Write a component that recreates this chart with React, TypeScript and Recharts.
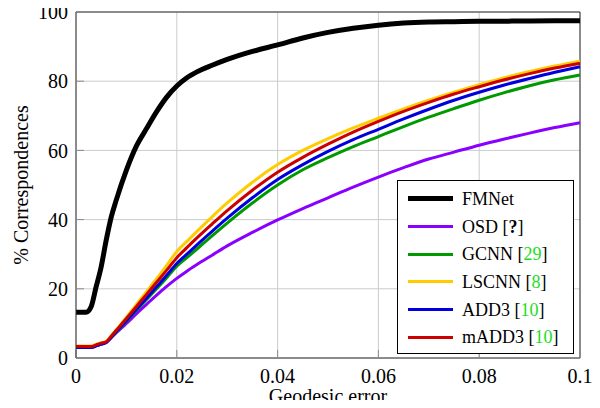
import React from 'react';
import {
  LineChart,
  Line,
  XAxis,
  YAxis,
  CartesianGrid,
  ReferenceLine,
  Legend,
  Label,
} from 'recharts';

const errX = [0, 0.002, 0.003, 0.004, 0.005, 0.006, 0.007, 0.008, 0.01, 0.012, 0.014, 0.016, 0.018, 0.02, 0.022, 0.024, 0.027, 0.03, 0.035, 0.04, 0.045, 0.05, 0.055, 0.06, 0.065, 0.07, 0.075, 0.08, 0.085, 0.09, 0.095, 0.1];

const fmnet = [13.2, 13.2, 14.8, 20.6, 26.4, 34.1, 40.8, 45.7, 54.3, 61.3, 66.3, 71.2, 75.4, 78.6, 81.0, 82.7, 84.6, 86.3, 88.6, 90.5, 92.5, 94.1, 95.3, 96.2, 96.8, 97.1, 97.2, 97.3, 97.35, 97.4, 97.45, 97.5];
const osd = [3.0, 3.0, 3.0, 3.5, 4.0, 4.5, 5.9, 7.3, 10.0, 12.8, 15.5, 18.2, 20.7, 23.0, 25.1, 27.0, 29.7, 32.4, 36.3, 39.9, 43.2, 46.3, 49.4, 52.3, 55.0, 57.5, 59.5, 61.5, 63.3, 65.0, 66.6, 68.0];
const gcnn = [3.2, 3.2, 3.2, 3.6, 4.1, 4.6, 6.0, 7.5, 10.6, 13.8, 16.9, 20.0, 23.2, 26.5, 29.0, 31.5, 35.3, 39.0, 44.8, 50.0, 54.4, 57.9, 61.1, 64.0, 66.9, 69.6, 72.1, 74.5, 76.7, 78.7, 80.4, 81.8];
const lscnn = [3.5, 3.5, 3.5, 3.9, 4.4, 4.8, 6.5, 8.2, 11.8, 15.5, 19.2, 22.9, 26.8, 30.8, 33.7, 36.6, 40.8, 44.8, 50.8, 55.9, 60.0, 63.4, 66.5, 69.3, 72.0, 74.5, 76.8, 79.0, 81.0, 82.8, 84.4, 85.8];
const add3 = [3.0, 3.0, 3.0, 3.5, 4.0, 4.5, 6.0, 7.6, 10.8, 14.1, 17.3, 20.6, 23.9, 27.3, 30.0, 32.7, 36.6, 40.4, 46.3, 51.6, 55.9, 59.7, 63.1, 66.1, 69.1, 71.9, 74.5, 76.8, 78.9, 80.8, 82.6, 84.2];
const madd3 = [3.3, 3.3, 3.3, 3.8, 4.3, 4.7, 6.3, 8.0, 11.4, 14.9, 18.4, 21.9, 25.4, 29.0, 31.9, 34.7, 38.7, 42.6, 48.5, 53.7, 58.0, 61.8, 65.3, 68.4, 71.3, 73.9, 76.3, 78.4, 80.4, 82.2, 83.8, 85.2];

const xTicks = [0, 0.02, 0.04, 0.06, 0.08, 0.1];
const yTicks = [0, 20, 40, 60, 80, 100];

const seriesNames = ['FMNet', 'OSD', 'GCNN', 'LSCNN', 'ADD3', 'mADD3'];
const seriesRefs = ['', '?', '29', '8', '10', '10'];
const seriesColors = ['#000000', '#8a00ff', '#009a00', '#ffcc00', '#0000dd', '#cc0000'];
const seriesWidths = [5, 3, 3, 3, 3, 3];
const seriesValues = [fmnet, osd, gcnn, lscnn, add3, madd3];

const data = errX.map((x, i) => {
  const row: Record<string, number> = { x };
  seriesNames.forEach((n, k) => {
    row[n] = seriesValues[k][i];
  });
  return row;
});

const FONT = 'Liberation Serif, DejaVu Serif, serif';

const LegendBox = () => (
  <div
    style={{
      width: 177,
      height: 174,
      border: '1px solid #000',
      background: '#fff',
      boxSizing: 'border-box',
      fontFamily: FONT,
      fontSize: 18,
      color: '#000',
      paddingTop: 4,
    }}
  >
    {seriesNames.map((n, k) => (
      <div key={n} style={{ display: 'flex', alignItems: 'center', height: 27.7 }}>
        <div
          style={{
            marginLeft: 10,
            width: 45,
            height: seriesWidths[k],
            background: seriesColors[k],
          }}
        />
        <span style={{ marginLeft: 9, lineHeight: 1, fontFamily: FONT }}>
          {n}
          {seriesRefs[k] !== '' && (
            <>
              {' ['}
              {seriesRefs[k] === '?' ? (
                <b>?</b>
              ) : (
                <span style={{ color: '#22dd22' }}>{seriesRefs[k]}</span>
              )}
              {']'}
            </>
          )}
        </span>
      </div>
    ))}
  </div>
);

export default function App() {
  return (
    <div style={{ margin: -8, width: 600, height: 408, background: '#fff', fontFamily: FONT }}>
      <LineChart
        width={600}
        height={408}
        data={data}
        margin={{ top: 12, right: 20, bottom: 0, left: 0 }}
        style={{ fontFamily: FONT }}
      >
        <CartesianGrid stroke="#cccccc" strokeWidth={1} />
        <XAxis
          dataKey="x"
          type="number"
          domain={[0, 0.1]}
          ticks={xTicks}
          tickFormatter={(v: number) => String(v)}
          height={50}
          stroke="#333"
          tickLine={{ stroke: '#8a8a8a' }}
          tickSize={-8}
          tickMargin={19}
          tick={{ fill: '#000', fontSize: 20, fontFamily: FONT }}
        >
          <Label
            value="Geodesic error"
            position="insideBottom"
            offset={5}
            style={{ fill: '#000', fontSize: 20, fontFamily: FONT }}
          />
        </XAxis>
        <YAxis
          type="number"
          domain={[0, 100]}
          ticks={yTicks}
          width={76}
          stroke="#333"
          tickLine={{ stroke: '#8a8a8a' }}
          tickSize={-8}
          tickMargin={16}
          tick={{ fill: '#000', fontSize: 20, fontFamily: FONT }}
        >
          <Label
            value="% Correspondences"
            angle={-90}
            position="insideLeft"
            offset={21}
            style={{ fill: '#000', fontSize: 20, fontFamily: FONT, textAnchor: 'middle' }}
          />
        </YAxis>
        <ReferenceLine y={100} stroke="#333" strokeWidth={1} />
        <ReferenceLine x={0.1} stroke="#333" strokeWidth={1} />
        {seriesNames.map((n, k) => (
          <Line
            key={n}
            dataKey={n}
            type="monotone"
            stroke={seriesColors[k]}
            strokeWidth={seriesWidths[k]}
            dot={false}
            isAnimationActive={false}
          />
        ))}
        <Legend
          layout="vertical"
          align="center"
          verticalAlign="middle"
          content={() => <LegendBox />}
          wrapperStyle={{ left: 397, top: 180, width: 177, height: 174 }}
        />
      </LineChart>
    </div>
  );
}
